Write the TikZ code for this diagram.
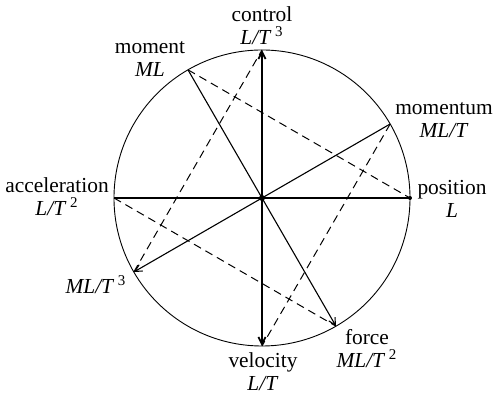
\documentclass[tikz,border=0pt]{standalone}
\usepackage{fontspec}
\setmainfont{Liberation Serif}
\usetikzlibrary{arrows.meta,calc}

\begin{document}
\begin{tikzpicture}[x=0.5pt,y=0.5pt,
  rim/.style={line width=0.45pt},
  ray/.style={line width=0.55pt},
  heavyray/.style={line width=0.9pt},
  chord/.style={line width=0.5pt,dash pattern=on 4pt off 2.6pt},
  tip/.style={-{Straight Barb[length=3.5pt,width=3.6pt]}},
  lbl/.style={font=\fontsize{10.7}{11.5}\selectfont,align=center,inner sep=0pt}]
  \useasboundingbox (0,0) rectangle (495,396);
  \coordinate (c) at (262,198);
  \draw[rim] (c) circle[radius=148];
  % points on the rim
  \coordinate (position) at ($(c)+(0:148)$);
  \coordinate (momentum) at ($(c)+(30:148)$);
  \coordinate (control) at ($(c)+(90:148)$);
  \coordinate (moment) at ($(c)+(120:148)$);
  \coordinate (accel) at ($(c)+(180:148)$);
  \coordinate (jerkmom) at ($(c)+(210:148)$);
  \coordinate (velocity) at ($(c)+(270:148)$);
  \coordinate (force) at ($(c)+(300:148)$);
  % rays from the centre
  \draw[heavyray] (c) -- (position);
  \fill (position) circle[radius=2];
  \draw[ray] (c) -- (momentum);
  \draw[heavyray,tip] (c) -- (control);
  \draw[ray] (c) -- (moment);
  \draw[ray] (c) -- (accel);
  \draw[ray,tip] (c) -- (jerkmom);
  \draw[heavyray,tip] (c) -- (velocity);
  \draw[ray,tip] (c) -- (force);
  \fill (c) circle[radius=3];
  % dashed chords
  \draw[chord] (moment) -- (position);
  \draw[chord] (jerkmom) -- (control);
  \draw[chord] (momentum) -- (velocity);
  \draw[chord] (accel) -- (force);
  % labels
  \node[lbl] (controllbl) at (262,370) {control\\\textit{L/T}\,\textsuperscript{3}};
  \node[lbl] (momentlbl) at (150,337) {moment\\\textit{ML}};
  \node[lbl] (momentumlbl) at (444,276) {momentum\\\textit{ML/T}};
  \node[lbl] (positionlbl) at (452,197) {position\\\textit{L}};
  \node[lbl] (accellbl) at (57,199) {acceleration\\\textit{L/T}\,\textsuperscript{2}};
  \node[lbl] (jerkmomlbl) at (96,111) {\textit{ML/T}\,\textsuperscript{3}};
  \node[lbl] (velocitylbl) at (263,24) {velocity\\\textit{L/T}};
  \node[lbl] (forcelbl) at (367,47) {force\\\textit{ML/T}\,\textsuperscript{2}};
\end{tikzpicture}
\end{document}
